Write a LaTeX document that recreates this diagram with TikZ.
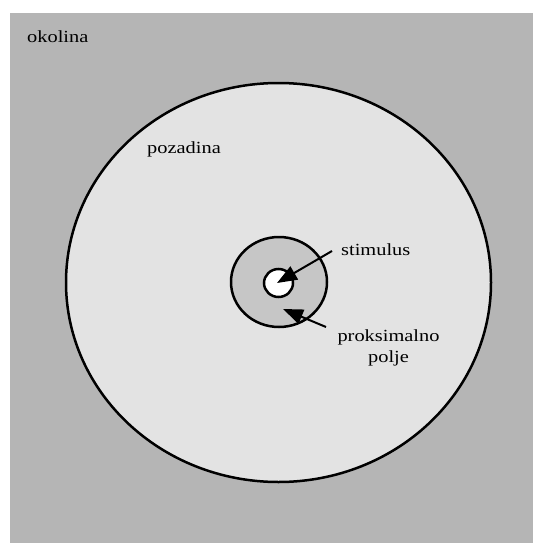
\documentclass[tikz,border=0pt]{standalone}
\usepackage{fontspec}
\setmainfont{Liberation Serif}
\newfontfamily\lab[FakeStretch=1.2]{Liberation Serif}
\usetikzlibrary{arrows.meta}
\definecolor{outerg}{HTML}{B5B5B5}
\definecolor{bgl}{HTML}{E3E3E3}
\definecolor{prox}{HTML}{C6C6C6}
\begin{document}
\begin{tikzpicture}[x=1pt,y=-1pt,
  lbl/.style={font=\lab\fontsize{17}{20}\selectfont, inner sep=0pt},
  ring/.style={line width=2.5pt},
  pointer/.style={line width=2pt, -{Triangle[length=20pt,width=15pt]}}]
\useasboundingbox (0,0) rectangle (533,543);
\fill[white] (0,0) rectangle (533,543);
\fill[outerg] (10,13) rectangle (533,543);
\draw[ring, fill=bgl] (278.5,282.5) ellipse [x radius=212.5, y radius=199.5];
\draw[ring, fill=prox] (279,282) ellipse [x radius=48, y radius=45];
\draw[ring, fill=white] (278.5,283) ellipse [x radius=14.5, y radius=14];
\node[lbl, anchor=base west] (okolina) at (27,42) {okolina};
\node[lbl, anchor=base west] (pozadina) at (147,153) {pozadina};
\node[lbl, anchor=base west] (stim) at (341,255) {stimulus};
\node[lbl, anchor=base] (prox) at (388.5,341) {proksimalno};
\node[lbl, anchor=base] (polje) at (388.5,362) {polje};
\coordinate (stimstart) at (332,251);
\coordinate (stimtip) at (277,283);
\coordinate (proxstart) at (326,327);
\coordinate (proxtip) at (283,309);
\draw[pointer] (stimstart) -- (stimtip);
\draw[pointer] (proxstart) -- (proxtip);
\end{tikzpicture}
\end{document}
